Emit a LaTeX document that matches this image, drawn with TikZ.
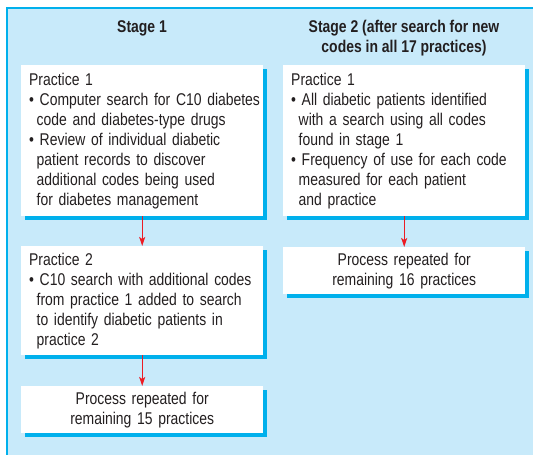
\documentclass[tikz,border=0pt]{standalone}
\usepackage{fontspec}
\setmainfont{Liberation Sans}[FakeStretch=0.82]
\usetikzlibrary{arrows.meta,shadows}
\definecolor{panelblue}{RGB}{200,234,250}
\definecolor{edgeblue}{RGB}{0,176,236}
\definecolor{flowred}{RGB}{236,28,36}
\definecolor{inkgrey}{RGB}{35,31,32}
\newcommand{\bul}{\textbullet\ }
\newcommand{\contline}{\hspace*{7.5pt}}

\begin{document}
\begin{tikzpicture}[x=1pt, y=-1pt, font=\fontsize{17}{20}\selectfont, text=inkgrey,
	box/.style={fill=white, anchor=north west, minimum width=242pt, inner xsep=-4pt, inner ysep=0pt, text width=250pt, drop shadow={shadow xshift=4pt, shadow yshift=-4pt, fill=edgeblue, opacity=1}},
	notebox/.style={box, align=left, execute at begin node={\leftskip=12pt}},
	endbox/.style={box, align=center, minimum height=47pt},
	flow/.style={-{Stealth[length=9pt,width=6pt,inset=2pt]}, line width=1.3pt, draw=flowred},
	heading/.style={font=\fontsize{17}{20}\selectfont\bfseries, align=center}]
		\useasboundingbox (0,0) rectangle (533,455);
		\fill[panelblue] (7,8) rectangle (533,455);
		\draw[edgeblue, line width=1.5pt] (7,455) -- (7,8) -- (533,8);

		\node[heading](stageone) at (142,28){Stage 1};
		\node[heading](stagetwo) at (404,38){Stage 2 (after search for new\\codes in all 17 practices)};

		\node[notebox, minimum height=151pt](leftone) at (21,65){Practice 1\\
			\bul Computer search for C10 diabetes\\
			\contline code and diabetes-type drugs\\
			\bul Review of individual diabetic\\
			\contline patient records to discover\\
			\contline additional codes being used\\
			\contline for diabetes management};
		\node[notebox, minimum height=109pt](lefttwo) at (21,246){Practice 2\\
			\bul C10 search with additional codes\\
			\contline from practice 1 added to search\\
			\contline to identify diabetic patients in\\
			\contline practice 2};
		\node[endbox](leftthree) at (21,386){Process repeated for\\remaining 15 practices};

		\node[notebox, minimum height=151pt](rightone) at (283,65){Practice 1\\
			\bul All diabetic patients identified\\
			\contline with a search using all codes\\
			\contline found in stage 1\\
			\bul Frequency of use for each code\\
			\contline measured for each patient\\
			\contline and practice};
		\node[endbox](righttwo) at (283,247){Process repeated for\\remaining 16 practices};

		\draw[flow] (leftone.south) -- (lefttwo.north);
		\draw[flow] (lefttwo.south) -- (leftthree.north);
		\draw[flow] (rightone.south) -- (righttwo.north);
	\end{tikzpicture}
\end{document}
